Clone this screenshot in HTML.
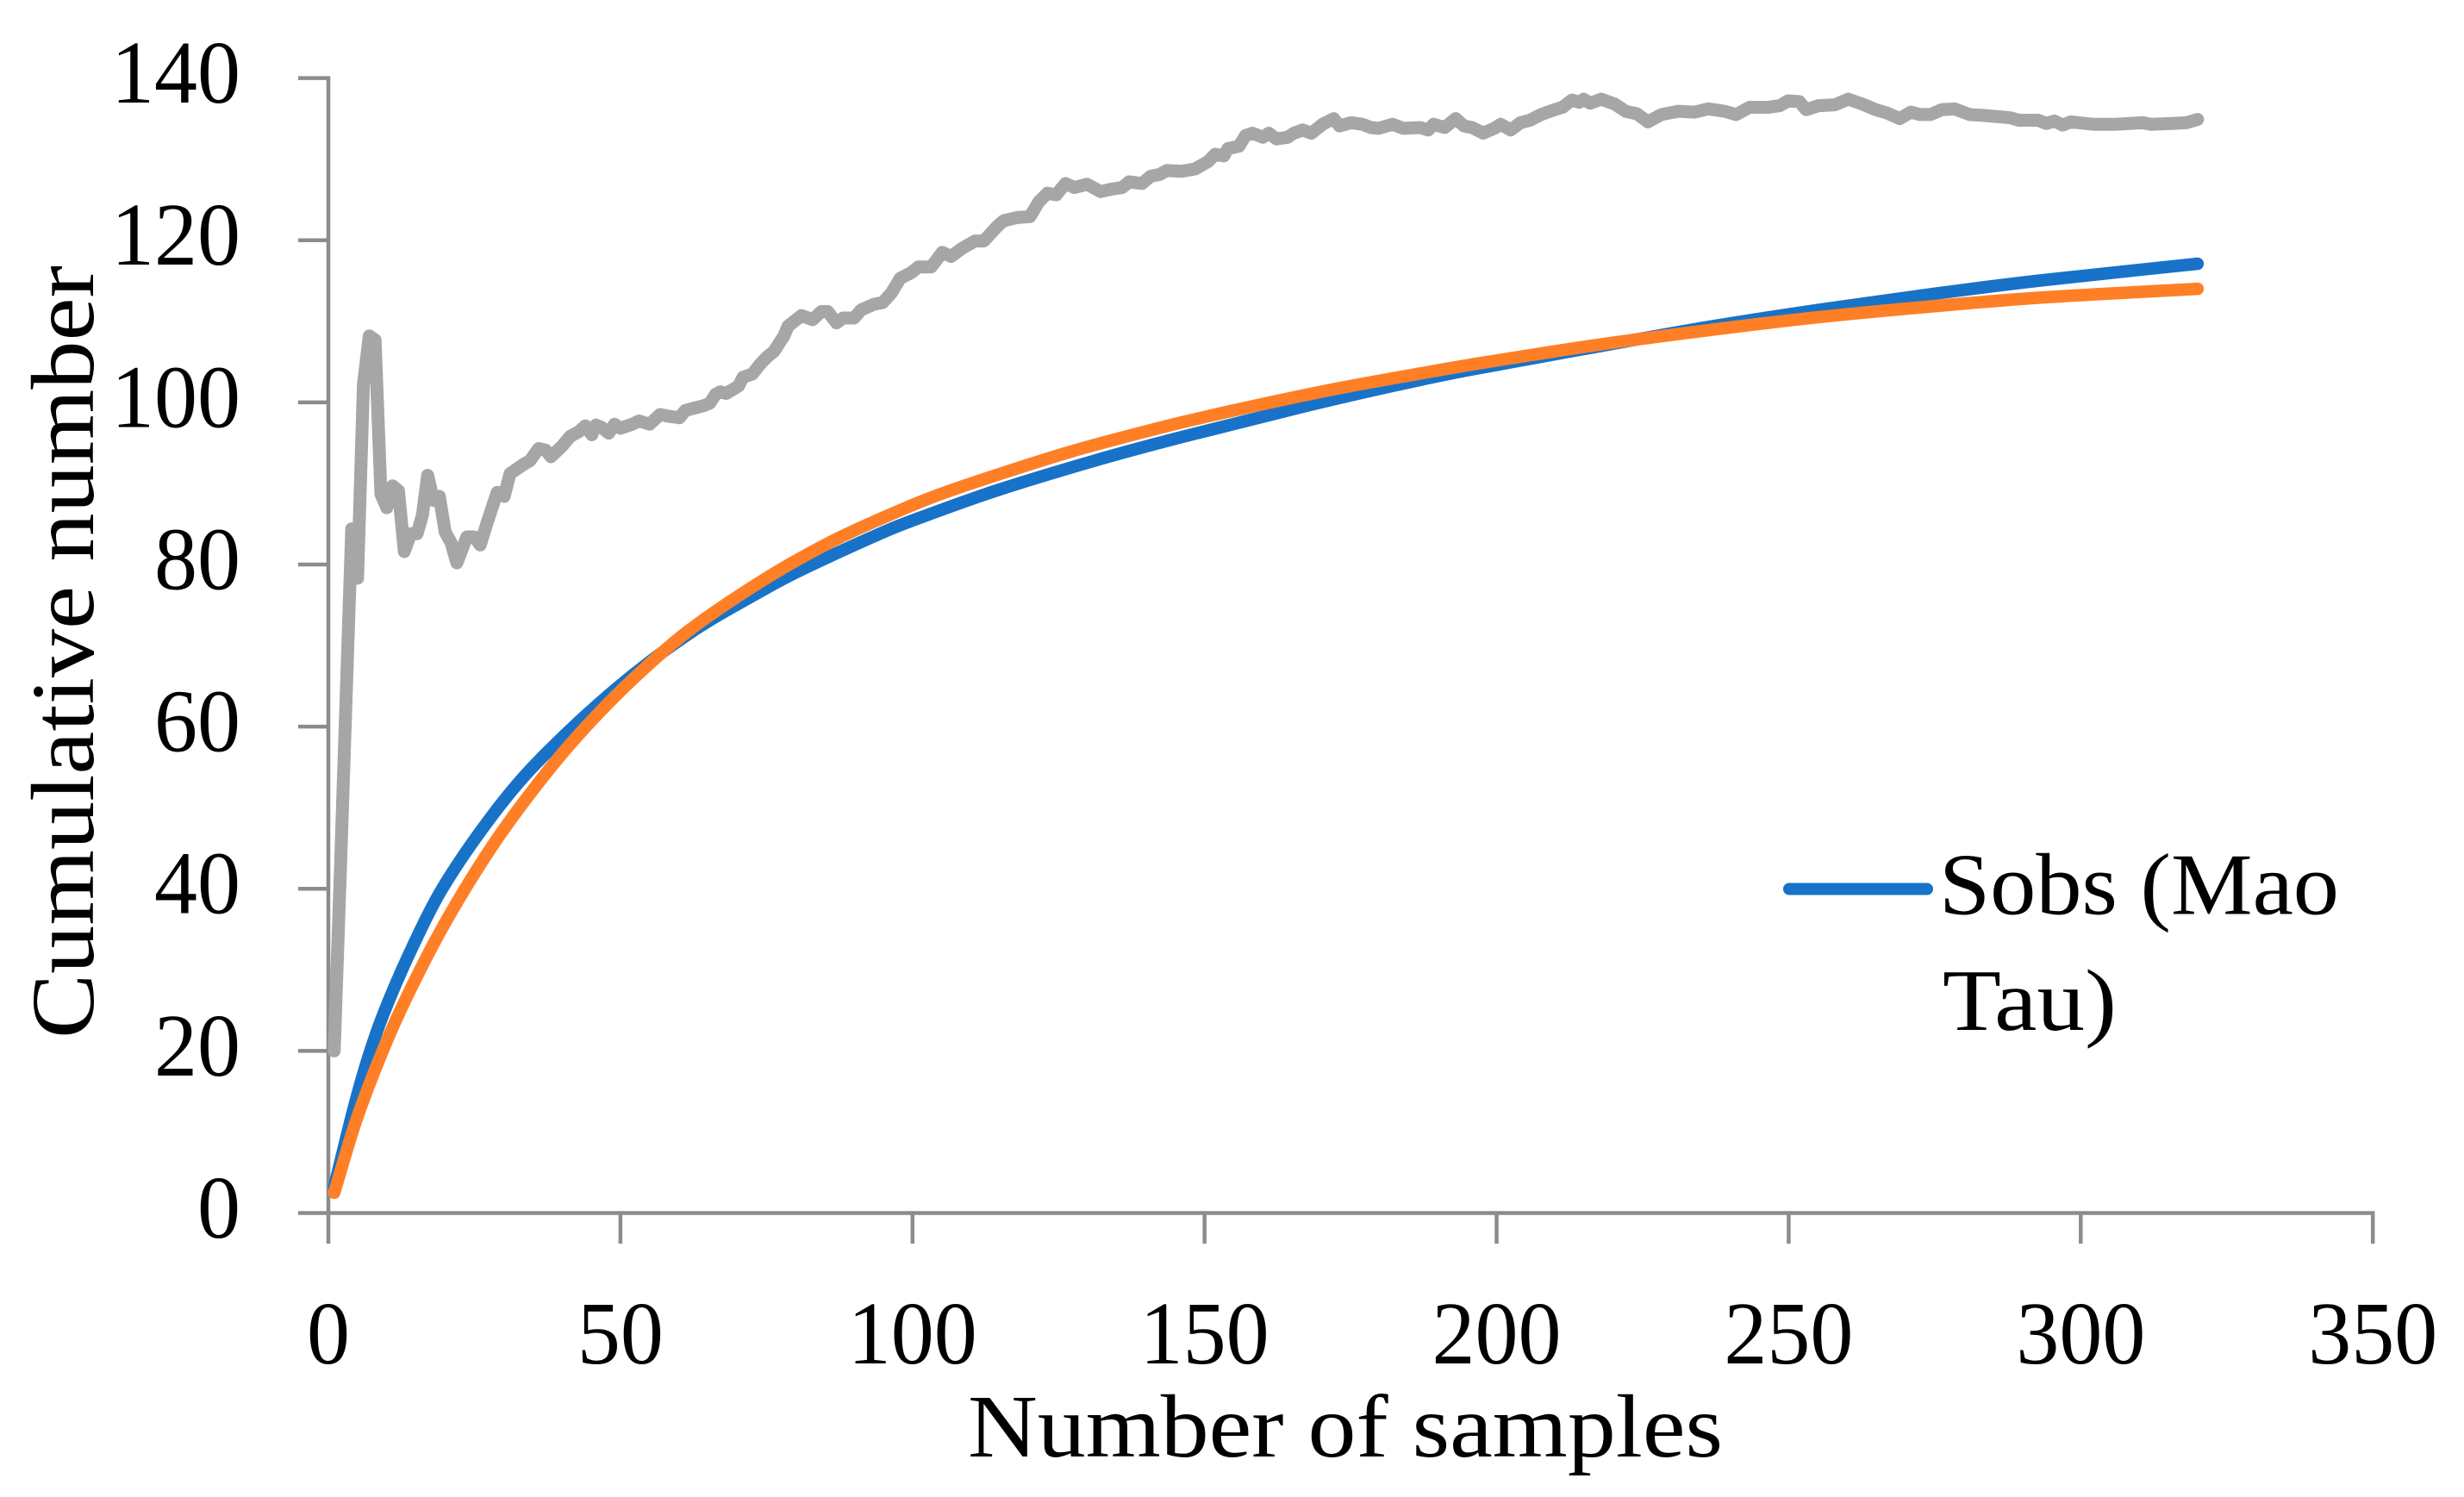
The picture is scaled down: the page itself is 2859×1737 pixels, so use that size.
<!DOCTYPE html>
<html lang="en">
<head>
<meta charset="utf-8">
<title>Cumulative number vs number of samples</title>
<style>
html,body{margin:0;padding:0;background:#fff;width:2859px;height:1737px;overflow:hidden}
svg{display:block}
text{font-family:"Liberation Serif",serif;fill:#000}
</style>
</head>
<body>
<svg id="chart" xmlns="http://www.w3.org/2000/svg" width="2859" height="1737" viewBox="0 0 2859 1737">
  <g id="axes"></g>
  <g id="series"></g>
  <text x="1123" y="1690" font-size="104" textLength="876" lengthAdjust="spacingAndGlyphs">Number of samples</text>
  <text transform="translate(108 1205) rotate(-90)" x="0" y="0" font-size="104" textLength="897" lengthAdjust="spacingAndGlyphs">Cumulative number</text>
  <g>
    <line x1="2076" y1="1031.5" x2="2236" y2="1031.5" stroke="#1872c8" stroke-width="14" stroke-linecap="round"></line>
    <text x="2250" y="1060.5" font-size="102" textLength="464" lengthAdjust="spacingAndGlyphs">Sobs (Mao</text>
    <text x="2254" y="1195" font-size="102" textLength="202" lengthAdjust="spacingAndGlyphs">Tau)</text>
  </g>
</svg>
<script>
const xTicks = [0, 50, 100, 150, 200, 250, 300, 350];
const yTicks = [0, 20, 40, 60, 80, 100, 120, 140];

const sobsSamples = [1, 4.3, 6.7, 9.4, 13.8, 19.4, 27.7, 35.5, 48.8, 61.8, 74.5, 81.7, 95.7, 102.9, 114.7, 132.1, 146.5, 167.6, 182, 194.6, 217.4, 236.2, 255, 273.9, 292.7, 320];
const sobsValues = [3.2, 12.8, 18.9, 24.5, 31.9, 39.9, 48.7, 55.4, 64.4, 71.5, 76.9, 79.6, 84.2, 86.2, 89.2, 93, 95.8, 99.6, 102, 103.9, 106.9, 109.3, 111.4, 113.3, 115, 117.1];

const orangeSamples = [1, 4.8, 9.7, 14.4, 20.3, 28, 35.9, 43.1, 51.9, 61.8, 74.5, 85.5, 94.4, 104.1, 115.1, 127, 137.2, 146.5, 157.5, 172.7, 188.8, 198.6, 217.4, 236.2, 255, 273.9, 292.7, 320];
const orangeValues = [2.5, 11.5, 20.7, 28.1, 36.2, 45.2, 53, 59.2, 65.7, 71.9, 78.1, 82.6, 85.6, 88.5, 91.2, 93.9, 95.9, 97.6, 99.4, 101.7, 103.8, 105, 107.1, 108.9, 110.5, 111.8, 112.9, 114];

const graySamples = [1, 2, 3, 4, 5, 6, 7, 8, 9, 10, 11, 12, 13, 14.1, 15.2, 16.1, 17, 18, 19, 20, 21, 22, 23.7, 25, 26, 27.2, 28.9, 30.1, 31.1, 33.3, 34.5, 36, 37.2, 38.1, 40, 41.4, 42.9, 44, 45.1, 45.8, 46.8, 48, 49, 50, 52, 53.2, 55, 56.8, 58.1, 60.1, 61.1, 64.3, 65.3, 66.3, 67.1, 68.1, 70.2, 71, 72.6, 73.9, 75.1, 76.3, 78, 78.7, 81, 82.9, 84.4, 85.5, 87, 88.1, 90, 91.2, 93.4, 94.9, 96.4, 97.9, 99.8, 101, 103.2, 105.1, 106.6, 108.5, 110.7, 112.2, 114.5, 115.6, 117.9, 120.1, 121.6, 123.1, 124.6, 126.2, 127.7, 129.9, 132.2, 134.1, 135.9, 137.1, 139.3, 140.8, 142.3, 143.5, 146.1, 148.4, 150.6, 151.8, 153.3, 154, 155.9, 157, 158.2, 160, 161, 162.3, 164.2, 165.3, 166.8, 168.3, 170.2, 172.1, 173.1, 175.1, 177, 178.5, 179.8, 182.2, 184, 186.9, 188.3, 189.2, 191.1, 193, 194.4, 195.8, 197.7, 199.6, 200.7, 202.4, 204.1, 205.7, 207.6, 209.9, 211.3, 212.9, 214.1, 214.9, 216, 217.9, 220.2, 222.1, 224, 225.9, 228.2, 231.1, 233.9, 236.2, 239.1, 241, 243.3, 246.6, 248.5, 249.9, 251.8, 253, 255.1, 257.9, 260.2, 262.6, 264.9, 266.8, 269, 270.9, 272.5, 274.3, 276.2, 278.4, 281, 283.3, 288, 289.4, 292.7, 294.1, 295.5, 296.9, 298.3, 302.1, 305.9, 310.6, 312, 315.7, 318.1, 320];
const grayValues = [20, 41, 62.7, 84.4, 78.3, 102.2, 108.2, 107.7, 88.7, 87, 89.7, 89.1, 81.6, 83.8, 83.8, 86.1, 91, 87.9, 88.4, 84, 82.7, 80.2, 83.4, 83.4, 82.4, 85.2, 88.9, 88.4, 91.2, 92.3, 92.8, 94.3, 94.1, 93.3, 94.6, 95.8, 96.4, 97.1, 96, 97.2, 96.9, 96.2, 97.3, 96.8, 97.3, 97.7, 97.3, 98.5, 98.3, 98.1, 99, 99.6, 99.9, 101, 101.3, 101.1, 102, 103.1, 103.5, 104.7, 105.6, 106.3, 108.2, 109.4, 110.7, 110.2, 111.2, 111.2, 109.8, 110.4, 110.4, 111.4, 112.1, 112.3, 113.5, 115.3, 116, 116.7, 116.7, 118.5, 118, 119, 119.9, 119.9, 121.7, 122.4, 122.8, 122.9, 124.7, 125.8, 125.6, 127, 126.5, 126.9, 126, 126.3, 126.5, 127.2, 127, 127.9, 128.1, 128.6, 128.5, 128.8, 129.7, 130.6, 130.4, 131.3, 131.6, 132.9, 133.2, 132.7, 133.2, 132.5, 132.7, 133.2, 133.6, 133.2, 134.3, 135, 134.1, 134.5, 134.3, 133.9, 133.8, 134.3, 133.8, 133.9, 133.6, 134.3, 133.9, 135, 134.1, 133.9, 133.2, 133.8, 134.3, 133.6, 134.5, 134.8, 135.5, 136.1, 136.4, 137.3, 137, 137.4, 136.9, 137.4, 136.8, 135.9, 135.6, 134.6, 135.5, 135.9, 135.8, 136.2, 135.9, 135.5, 136.4, 136.4, 136.6, 137.2, 137.1, 136.1, 136.6, 136.7, 137.4, 136.8, 136.1, 135.7, 135, 135.8, 135.5, 135.5, 136.1, 136.2, 135.5, 135.4, 135.1, 134.8, 134.8, 134.4, 134.7, 134.2, 134.6, 134.3, 134.3, 134.5, 134.3, 134.4, 134.5, 134.9];

const SVG_NS = 'http://www.w3.org/2000/svg';
const axisColor = '#8c8c8c';
const xScale = v => 381 + v * (2753.2 - 381) / 350;
const yScale = v => 1407.5 - v * (1407.5 - 90.6) / 140;

function make(tag, attrs, parent) {
  const el = document.createElementNS(SVG_NS, tag);
  for (const k in attrs) el.setAttribute(k, attrs[k]);
  parent.appendChild(el);
  return el;
}

const axes = document.getElementById('axes');
const series = document.getElementById('series');

const yAxisLine = make('line', {x1: xScale(0), y1: yScale(140) - 2.2, x2: xScale(0), y2: yScale(0), stroke: axisColor, 'stroke-width': 4.5}, axes);


const xAxisLine = make('line', {x1: xScale(0), y1: yScale(0), x2: xScale(350) + 2.2, y2: yScale(0), stroke: axisColor, 'stroke-width': 4.5}, axes);



yTicks.forEach(t => {
  const mark = make('line', {x1: 346, y1: yScale(t), x2: xScale(0), y2: yScale(t), stroke: axisColor, 'stroke-width': 4.5}, axes);
  
  
  const s = String(t);
  const w = s.length * 50;
  const label = make('text', {x: 279 - w, y: yScale(t) + 28.5, 'font-size': 104, textLength: w, lengthAdjust: 'spacingAndGlyphs'}, axes);
  label.textContent = s;
  
  
});

xTicks.forEach(t => {
  const mark = make('line', {x1: xScale(t), y1: yScale(0), x2: xScale(t), y2: 1443, stroke: axisColor, 'stroke-width': 4.5}, axes);
  
  
  const s = String(t);
  const w = s.length * 50;
  const label = make('text', {x: xScale(t) - w / 2, y: 1582, 'font-size': 104, textLength: w, lengthAdjust: 'spacingAndGlyphs'}, axes);
  label.textContent = s;
  
  
});

function smoothPath(xs, ys) {
  const slope = i => {
    const a = Math.max(i - 1, 0);
    const b = Math.min(i + 1, xs.length - 1);
    return (ys[b] - ys[a]) / (xs[b] - xs[a]);
  };
  let d = 'M' + xScale(xs[0]).toFixed(2) + ' ' + yScale(ys[0]).toFixed(2);
  for (let i = 0; i < xs.length - 1; i++) {
    const h = xs[i + 1] - xs[i];
    const c1x = xs[i] + h / 3;
    const c1y = ys[i] + slope(i) * h / 3;
    const c2x = xs[i + 1] - h / 3;
    const c2y = ys[i + 1] - slope(i + 1) * h / 3;
    d += 'C' + xScale(c1x).toFixed(2) + ' ' + yScale(c1y).toFixed(2) + ' ' + xScale(c2x).toFixed(2) + ' ' + yScale(c2y).toFixed(2) + ' ' + xScale(xs[i + 1]).toFixed(2) + ' ' + yScale(ys[i + 1]).toFixed(2);
  }
  return d;
}

function linePath(xs, ys) {
  return xs.map((x, i) => (i ? 'L' : 'M') + xScale(x).toFixed(2) + ' ' + yScale(ys[i]).toFixed(2)).join('');
}

const seriesStyle = {fill: 'none', 'stroke-linecap': 'round', 'stroke-linejoin': 'round'};

const sobsLine = make('path', Object.assign({d: smoothPath(sobsSamples, sobsValues), stroke: '#1872c8', 'stroke-width': 14.5}, seriesStyle), series);



const orangeLine = make('path', Object.assign({d: smoothPath(orangeSamples, orangeValues), stroke: '#ff7f27', 'stroke-width': 14.5}, seriesStyle), series);



const grayLine = make('path', Object.assign({d: linePath(graySamples, grayValues), stroke: '#a6a6a6', 'stroke-width': 15}, seriesStyle), series);


</script>
</body>
</html>
